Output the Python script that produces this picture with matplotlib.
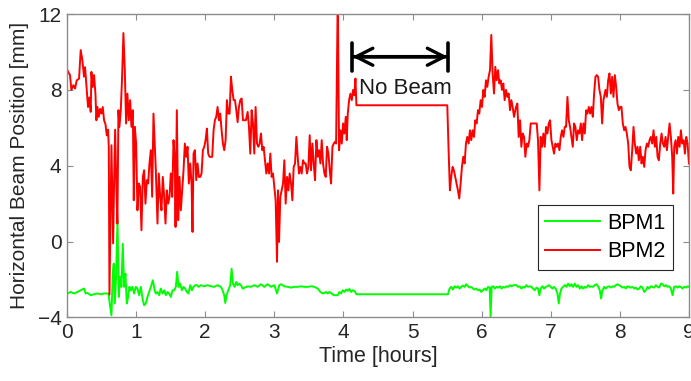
import matplotlib
matplotlib.use("Agg")
import matplotlib.pyplot as plt

# ---------------- data ----------------
t_bpm1 = [0.005, 0.053, 0.101, 0.15, 0.198, 0.246, 0.27, 0.295, 0.343, 0.391, 0.44, 0.488, 0.536, 0.6,
          0.618, 0.643, 0.662, 0.676, 0.691, 0.71, 0.73, 0.749, 0.768, 0.787, 0.807, 0.826, 0.845, 0.865,
          0.884, 0.903, 0.923, 0.947, 0.971, 0.995, 1.019, 1.043, 1.068, 1.097, 1.116, 1.14, 1.164, 1.188,
          1.213, 1.242, 1.27,
          1.285, 1.309, 1.333, 1.357, 1.382, 1.406, 1.43, 1.454, 1.478, 1.502, 1.527, 1.551, 1.575, 1.594,
          1.614, 1.638, 1.662, 1.686, 1.71, 1.734, 1.758, 1.783, 1.807, 1.831, 1.855, 1.879, 1.903, 1.937,
          1.986, 2.034, 2.082, 2.13, 2.179, 2.227, 2.251, 2.275, 2.29, 2.309, 2.333, 2.362, 2.382, 2.401,
          2.425, 2.449, 2.469, 2.493, 2.517, 2.541,
          2.614, 2.662, 2.71, 2.758, 2.807, 2.855, 2.903, 2.952, 3.0, 3.039, 3.072, 3.097, 3.145, 3.193,
          3.242, 3.29, 3.338, 3.386, 3.435, 3.483, 3.531, 3.58, 3.628, 3.667, 3.701, 3.725, 3.749, 3.773,
          3.797, 3.831, 3.86,
          3.918, 3.942, 3.966, 3.99, 4.014, 4.039, 4.063, 4.087, 4.111, 4.135, 4.159, 4.188,
          5.512,
          5.536, 5.56, 5.585, 5.609, 5.633, 5.657, 5.681, 5.705, 5.729, 5.754, 5.778, 5.802, 5.826, 5.85,
          5.874, 5.899, 5.923, 5.947, 5.971, 5.995, 6.019, 6.043, 6.068, 6.092, 6.116, 6.13, 6.145, 6.169,
          6.193, 6.217, 6.242, 6.266, 6.29, 6.314, 6.338, 6.362, 6.386, 6.411, 6.435, 6.459,
          6.502, 6.527, 6.551, 6.575, 6.599, 6.623, 6.647, 6.671, 6.696, 6.72, 6.744, 6.768, 6.792, 6.816,
          6.836, 6.855, 6.879, 6.903, 6.928, 6.952, 6.976, 7.0, 7.024, 7.048, 7.072, 7.097, 7.116, 7.135,
          7.155, 7.179, 7.203, 7.227, 7.251, 7.275, 7.3, 7.324, 7.348, 7.372, 7.396, 7.42, 7.444, 7.469,
          7.493, 7.517, 7.541, 7.565, 7.589, 7.614, 7.638, 7.662, 7.686, 7.71, 7.729, 7.749, 7.773,
          7.797, 7.821, 7.845, 7.87, 7.894, 7.918, 7.942, 7.966, 7.99, 8.014, 8.039, 8.063, 8.087, 8.111,
          8.135, 8.159, 8.184, 8.208, 8.232, 8.256, 8.28, 8.304, 8.328, 8.353, 8.377, 8.401, 8.425, 8.449,
          8.473, 8.498, 8.522, 8.546, 8.57, 8.594, 8.618, 8.643, 8.667, 8.691, 8.715, 8.739, 8.763, 8.787,
          8.812, 8.836, 8.86, 8.884, 8.908, 8.932, 8.957, 8.981, 9.0]
bpm1 = [-2.74, -2.66, -2.74, -2.66, -2.57, -2.48, -2.74, -2.71, -2.83, -2.78, -2.74, -2.78, -2.74, -2.74,
        -3.27, -3.89, -1.69, -1.16, -3.27, -1.86, 1.13, -2.92, -1.86, -2.39, -0.11, -2.39, -1.69, -3.27,
        -2.92, -2.39, -2.57, -2.39, -2.74, -2.39, -2.48, -2.83, -2.39, -3.10, -3.36, -3.27, -2.92, -2.66,
        -2.39, -2.04, -2.60,
        -2.74, -2.66, -2.83, -2.48, -2.74, -2.57, -2.83, -2.66, -2.74, -2.92, -2.57, -2.57, -2.39, -1.60,
        -2.39, -2.22, -2.57, -2.39, -2.48, -2.66, -2.74, -2.30, -2.57, -2.39, -2.30, -2.30, -2.39, -2.30,
        -2.36, -2.30, -2.36, -2.39, -2.30, -2.39, -2.57, -2.83, -3.24, -2.83, -2.57, -2.30, -1.43, -2.22,
        -2.39, -2.13, -2.30, -2.22, -2.30, -2.48,
        -2.36, -2.39, -2.30, -2.39, -2.25, -2.39, -2.25, -2.39, -2.30, -2.74, -2.30, -2.25, -2.36, -2.39,
        -2.43, -2.39, -2.39, -2.36, -2.39, -2.39, -2.36, -2.39, -2.48, -2.66, -2.74, -2.71, -2.66, -2.74,
        -2.66, -2.74, -2.83,
        -2.83, -2.66, -2.74, -2.57, -2.66, -2.53, -2.60, -2.50, -2.66, -2.57, -2.60, -2.78,
        -2.78,
        -2.48, -2.39, -2.53, -2.36, -2.43, -2.36, -2.48, -2.39, -2.32, -2.39, -2.25, -2.36, -2.43, -2.39,
        -2.48, -2.53, -2.48, -2.57, -2.53, -2.66, -2.57, -2.48, -2.57, -2.39, -2.43, -3.98, -2.39, -2.36,
        -2.48, -2.39, -2.43, -2.36, -2.48, -2.39, -2.43, -2.36, -2.39, -2.30, -2.36, -2.30,
        -2.30, -2.39, -2.36, -2.48, -2.39, -2.43, -2.30, -2.39, -2.36, -2.39, -2.48, -2.57, -2.43, -2.48,
        -2.83, -2.48, -2.36, -2.48, -2.39, -2.36, -2.30, -2.39, -2.48, -2.39, -2.48, -2.74, -3.27, -2.74,
        -2.48, -2.39, -2.30, -2.39, -2.22, -2.36, -2.25, -2.39, -2.22, -2.39, -2.30, -2.48, -2.36, -2.48,
        -2.39, -2.43, -2.30, -2.39, -2.36, -2.39, -2.30, -2.25, -2.36, -2.57, -3.01, -2.57, -2.39,
        -2.48, -2.39, -2.36, -2.43, -2.36, -2.39, -2.30, -2.25, -2.30, -2.36, -2.43, -2.39, -2.48, -2.36,
        -2.39, -2.43, -2.39, -2.48, -2.43, -2.53, -2.48, -2.36, -2.43, -2.66, -2.57, -2.39, -2.48, -2.36,
        -2.39, -2.43, -2.30, -2.39, -2.43, -2.22, -2.25, -2.36, -2.30, -2.39, -2.36, -2.48, -2.83, -2.39,
        -2.36, -2.43, -2.36, -2.39, -2.48, -2.39, -2.43, -2.36, -2.39]

t_bpm2 = [0.005, 0.043, 0.063, 0.092, 0.116, 0.14, 0.174, 0.198, 0.222, 0.246, 0.261, 0.285, 0.304, 0.324,
          0.343, 0.353, 0.372, 0.391, 0.411, 0.425, 0.44, 0.459, 0.478, 0.498, 0.517, 0.536, 0.556, 0.575,
          0.594, 0.604, 0.614, 0.643, 0.667, 0.681, 0.696, 0.715, 0.729, 0.744, 0.758, 0.778, 0.797, 0.816,
          0.836, 0.855, 0.874, 0.894, 0.913, 0.932, 0.952, 0.966, 0.981, 1.0, 1.019, 1.039, 1.058, 1.077,
          1.097, 1.116, 1.135, 1.155, 1.174, 1.193, 1.213, 1.232, 1.251,
          1.285, 1.309, 1.328, 1.348, 1.367, 1.386, 1.406, 1.425, 1.444, 1.464, 1.483, 1.502, 1.522, 1.541,
          1.56, 1.57, 1.589, 1.609, 1.628, 1.647, 1.667, 1.686, 1.705, 1.725, 1.744, 1.763, 1.783, 1.802,
          1.816, 1.831, 1.85, 1.87, 1.889, 1.908, 1.928, 1.947, 1.966, 1.986, 2.005, 2.024, 2.043, 2.063,
          2.082, 2.101, 2.121, 2.14, 2.159, 2.179, 2.198, 2.217, 2.237, 2.256, 2.275, 2.295, 2.314, 2.333,
          2.353, 2.372, 2.391, 2.411, 2.43, 2.45, 2.469, 2.488, 2.507, 2.527, 2.546,
          2.589, 2.614, 2.633, 2.652, 2.672, 2.691, 2.71, 2.729, 2.749, 2.768, 2.787, 2.807, 2.826, 2.845,
          2.865, 2.884, 2.903, 2.923, 2.942, 2.961, 2.981, 3.0, 3.019, 3.039, 3.053, 3.068, 3.087, 3.106,
          3.126, 3.145, 3.164, 3.184, 3.203, 3.222, 3.242, 3.261, 3.28, 3.3, 3.319, 3.338, 3.357, 3.377,
          3.396, 3.415, 3.435, 3.454, 3.473, 3.493, 3.512, 3.531, 3.551, 3.57, 3.589, 3.609, 3.628, 3.647,
          3.667, 3.686, 3.705, 3.725, 3.744, 3.763, 3.783, 3.802, 3.821, 3.841, 3.86, 3.879,
          3.894, 3.918, 3.937, 3.957, 3.976, 3.995, 4.014, 4.034, 4.048, 4.063, 4.082, 4.101, 4.121, 4.14,
          4.159, 4.174, 4.188,
          5.503,
          5.522, 5.541, 5.56, 5.58, 5.599, 5.618, 5.638, 5.657, 5.676, 5.696, 5.715, 5.734, 5.754, 5.773,
          5.792, 5.812, 5.831, 5.85, 5.87, 5.889, 5.908, 5.928, 5.947, 5.966, 5.986, 6.005, 6.024, 6.043,
          6.063, 6.082, 6.101, 6.121, 6.14, 6.159, 6.179, 6.198, 6.217, 6.237, 6.256, 6.275, 6.295, 6.314,
          6.333, 6.353, 6.372, 6.391, 6.411, 6.43, 6.449, 6.469,
          6.498, 6.517, 6.536, 6.556, 6.575, 6.594, 6.614, 6.633, 6.652, 6.671, 6.691, 6.71, 6.797, 6.816,
          6.836, 6.855, 6.874, 6.894, 6.913, 6.932, 6.952, 6.971, 6.99, 7.01, 7.029, 7.048, 7.068, 7.087,
          7.106, 7.126, 7.145, 7.164, 7.184, 7.203, 7.222, 7.242, 7.261, 7.28, 7.3, 7.319, 7.338, 7.357,
          7.377, 7.396, 7.415, 7.435, 7.454, 7.473, 7.493, 7.512, 7.531, 7.551, 7.57, 7.589, 7.609, 7.628,
          7.647, 7.667, 7.686, 7.705, 7.725, 7.744, 7.763,
          7.792, 7.812, 7.831, 7.85, 7.87, 7.889, 7.908, 7.928, 7.947, 7.966, 7.986, 8.005, 8.024, 8.043,
          8.063, 8.082, 8.101, 8.121, 8.14, 8.159, 8.179, 8.198, 8.217, 8.237, 8.256, 8.275, 8.295, 8.314,
          8.333, 8.353, 8.372, 8.391, 8.411, 8.43, 8.449, 8.469, 8.488, 8.507, 8.527, 8.546, 8.565, 8.585,
          8.604, 8.623, 8.643, 8.662, 8.681, 8.7, 8.72, 8.739, 8.758, 8.773, 8.787, 8.807, 8.826, 8.845,
          8.865, 8.884, 8.903, 8.923, 8.942, 8.961, 8.981, 9.0]
bpm2 = [9.04, 8.78, 8.0, 8.25, 8.07, 8.5, 8.6, 10.1, 9.57, 8.7, 9.2, 8.0, 7.1, 7.6,
        6.84, 8.95, 8.16, 8.78, 7.8, 6.4, 7.1, 6.58, 7.0, 6.75, 7.1, 6.4, 6.2, 5.6,
        5.9, 5.0, -2.8, 5.08, -0.1, 3.06, 5.9, 2.7, 0.95, 6.93, 6.05, 6.93, 8.7, 11.0,
        9.04, 6.23, 7.8, 6.4, 7.46, 6.05, 6.93, 2.18, 6.05, 5.17, 1.65, 3.06, 2.88, 0.6,
        3.41, 3.76, 2.0, 3.24, 3.06, 4.12, 4.82, 2.36, 6.75,
        3.76, 0.95, 3.59, 2.36, 1.65, 3.41, 2.36, 0.95, 2.7, 2.0, 2.36, 3.59, 2.36, 5.35,
        4.3, 0.77, 6.93, 1.13, 3.41, 1.65, 2.7, 3.76, 5.17, 4.47, 5.0, 3.06, 4.12, 3.06,
        0.51, 4.64, 4.82, 3.24, 4.12, 3.41, 3.41, 3.59, 4.82, 5.0, 5.35, 5.96, 4.64, 4.47,
        4.47, 4.47, 5.87, 6.4, 6.58, 7.1, 6.4, 6.75, 5.87, 5.17, 4.82, 5.35, 7.46, 6.75,
        6.75, 8.7, 8.0, 7.46, 7.46, 6.93, 6.3, 7.1, 7.46, 7.55, 6.4,
        6.4, 6.84, 6.05, 4.64, 6.93, 6.23, 4.64, 7.1, 5.17, 5.0, 5.17, 5.7, 4.82, 5.0,
        4.29, 3.59, 4.12, 3.59, 4.64, 3.41, 3.59, 2.88, 2.18, -1.07, 2.7, -0.02, 2.36, 2.7,
        3.06, 4.29, 2.0, 3.41, 2.7, 3.59, 3.06, 2.18, 3.94, 4.12, 5.52, 4.47, 3.59, 3.94,
        3.59, 4.29, 4.12, 4.12, 3.59, 3.94, 5.61, 3.76, 5.17, 4.12, 3.24, 5.35, 4.47, 4.82,
        4.12, 5.35, 4.12, 3.59, 3.41, 5.0, 4.64, 3.76, 3.06, 5.0, 5.17, 5.26,
        5.17, 13.0, 4.82, 5.87, 5.17, 6.23, 5.7, 6.58, 5.35, 6.75, 7.46, 7.8, 7.46, 8.0,
        7.72, 8.6, 7.19,
        7.19,
        4.82, 2.7, 3.41, 3.94, 3.76, 3.41, 3.06, 2.7, 2.27, 3.06, 3.94, 4.47, 4.12, 5.17,
        5.52, 5.17, 5.87, 5.35, 5.87, 5.52, 6.4, 6.23, 6.93, 6.75, 7.46, 7.1, 8.0, 7.63,
        8.51, 8.16, 8.69, 9.04, 10.9, 8.87, 7.81, 9.22, 8.51, 9.04, 8.34, 8.51, 8.0, 8.34,
        7.46, 8.0, 7.63, 7.81, 6.93, 7.46, 7.1, 6.58,
        7.1, 7.28, 5.52, 6.4, 5.0, 5.7, 5.52, 4.47, 5.17, 5.0, 5.35, 6.23, 6.23, 5.35,
        2.7, 5.52, 5.0, 5.7, 5.0, 6.05, 5.7, 6.23, 6.4, 5.35, 5.0, 4.64, 5.17, 5.0,
        5.17, 4.82, 5.52, 5.87, 5.52, 6.05, 6.05, 7.63, 6.4, 6.05, 5.52, 5.0, 6.23, 6.05,
        5.35, 5.87, 5.7, 6.23, 5.35, 6.23, 5.7, 6.93, 6.75, 7.1, 6.75, 7.1, 6.58, 7.81,
        8.69, 8.78, 8.69, 8.0, 7.63, 6.23, 7.46,
        8.0, 7.63, 8.51, 8.87, 7.81, 8.69, 7.63, 8.78, 8.16, 7.28, 6.93, 7.1, 7.1, 6.23,
        5.87, 6.05, 5.7, 5.17, 3.94, 3.76, 4.82, 6.05, 5.17, 4.64, 5.0, 4.29, 5.0, 4.12,
        4.47, 3.94, 4.82, 5.17, 5.0, 5.35, 5.52, 5.17, 5.87, 5.0, 5.52, 4.47, 4.29, 5.17,
        5.7, 5.17, 5.0, 5.52, 4.82, 5.52, 6.23, 5.52, 4.47, 2.53, 5.0, 5.35, 4.64, 5.52,
        5.0, 5.87, 5.17, 5.35, 4.64, 5.52, 5.17, 4.12]

series_labels = ["BPM1", "BPM2"]
x_ticks = [0, 1, 2, 3, 4, 5, 6, 7, 8, 9]
y_ticks = [-4, 0, 4, 8, 12]
no_beam_start, no_beam_end = 4.13, 5.51
no_beam_label = "No Beam"

# ---------------- plot ----------------
plt.rcParams['font.family'] = ['Liberation Sans', 'DejaVu Sans']
fs = 15

fig = plt.figure(figsize=(6.91, 3.81), dpi=100)
ax = fig.add_axes([0.097, 0.167, 0.900, 0.796])

ax.plot(t_bpm1, bpm1, color=(0, 1, 0), lw=1.4, label=series_labels[0])
ax.plot(t_bpm2, bpm2, color=(1, 0, 0), lw=1.4, label=series_labels[1])

ax.set_xlim(0, 9)
ax.set_ylim(-4, 12)
ax.set_xticks(x_ticks)
ax.set_yticks(y_ticks)

spine_col = '#8c8c8c'
for s in ax.spines.values():
    s.set_color(spine_col)
    s.set_linewidth(1.0)
ax.tick_params(direction='in', length=4.5, width=0.8, color=spine_col,
               top=True, right=True, labelsize=fs, labelcolor='#262626', pad=4)

ax.set_xlabel('Time [hours]', fontsize=fs + 0.5, color='#262626', labelpad=3)
ax.set_ylabel('Horizontal Beam Position [mm]', fontsize=fs, color='#262626', labelpad=6)

# No Beam annotation: double arrow plus end bars
ax.annotate('', xy=(no_beam_start, 9.75), xytext=(no_beam_end, 9.75),
            arrowprops=dict(arrowstyle='<->, head_length=0.67, head_width=0.34',
                            lw=2.4, color='black', shrinkA=0, shrinkB=0, mutation_scale=18))
ax.annotate('', xy=(no_beam_start, 9.75), xytext=(no_beam_end, 9.75),
            arrowprops=dict(arrowstyle='|-|, widthA=0.56, widthB=0.56',
                            lw=2.6, color='black', shrinkA=0, shrinkB=0, mutation_scale=18))
ax.text(4.9, 8.05, no_beam_label, fontsize=fs + 1,
        ha='center', va='center', color='#1a1a1a')

leg = ax.legend(loc='lower right', bbox_to_anchor=(0.974, 0.157), borderaxespad=0,
                fontsize=fs + 0.5, frameon=True, fancybox=False, handlelength=2.55,
                labelspacing=0.35, borderpad=0.35, handletextpad=0.3)
leg.get_frame().set_edgecolor('#262626')
leg.get_frame().set_linewidth(0.8)
leg.get_frame().set_alpha(1)

fig.savefig('out.png', dpi=100)
